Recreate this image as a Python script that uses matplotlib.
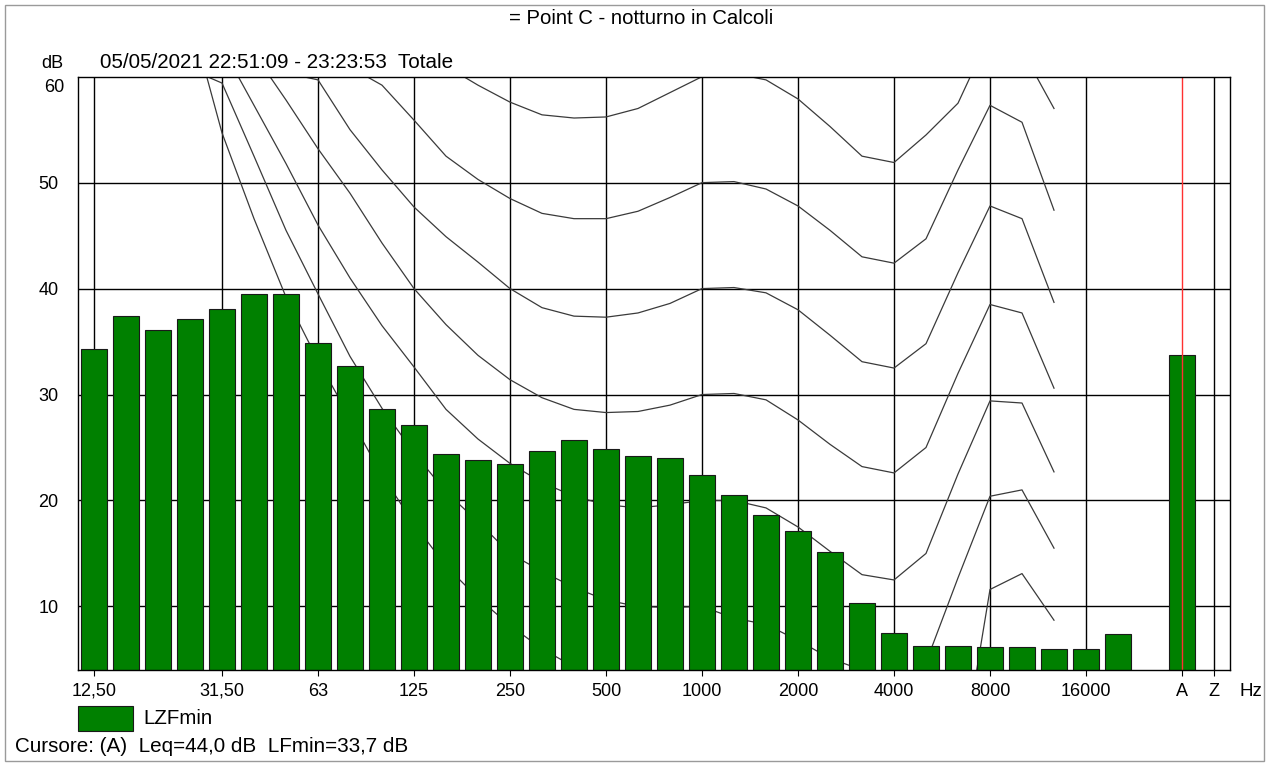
import numpy as np
import matplotlib.pyplot as plt
from matplotlib.patches import Rectangle

plt.rcParams['font.family'] = ['Liberation Sans', 'DejaVu Sans']

# third-octave bands 12.5 Hz .. 20 kHz, then the A and Z totals
bands = ['12.5', '16', '20', '25', '31.5', '40', '50', '63', '80', '100', '125',
         '160', '200', '250', '315', '400', '500', '630', '800', '1000', '1250',
         '1600', '2000', '2500', '3150', '4000', '5000', '6300', '8000', '10000',
         '12500', '16000', '20000']
lzfmin = [34.3, 37.4, 36.1, 37.1, 38.1, 39.5, 39.5, 34.9, 32.7, 28.6, 27.1,
          24.4, 23.8, 23.4, 24.7, 25.7, 24.9, 24.2, 24.0, 22.4, 20.5,
          18.6, 17.1, 15.1, 10.3, 7.5, 6.3, 6.3, 6.2, 6.2,
          6.0, 6.0, 7.4]
lzfmin_a = 33.7

tick_labels = ['12,50', '31,50', '63', '125', '250', '500', '1000', '2000',
               '4000', '8000', '16000']
tick_bands = ['12.5', '31.5', '63', '125', '250', '500', '1000', '2000',
              '4000', '8000', '16000']

# equal loudness contours (values per band 12.5 Hz .. 12.5 kHz, nan = not drawn)
nan = np.nan
iso0 = [nan, nan, nan, 65.8, 54.7, 46.6, 39.2, 33.2, 27.8, 22.4, 17.8, 13.8, 10.8,
        8.2, 6.0, 4.3, 3.0, 2.0, 1.0, 0.0, -1.0, -2.0, -3.0, -4.0, -5.5, -6.0,
        -8.0, -6.7, 11.6, 13.1, 8.7]
iso10 = [nan, nan, nan, 60.7, 59.4, 52.5, 45.5, 39.5, 33.6, 28.7, 24.5, 20.8, 18.0,
         15.0, 13.3, 11.8, 10.6, 10.0, 9.9, 10.0, 8.9, 8.3, 6.8, 5.1, 4.0, 2.5,
         4.7, 12.7, 20.4, 21.0, 15.5]
iso20 = [nan, nan, nan, nan, 62.8, 57.3, 51.8, 46.0, 41.0, 36.5, 32.6, 28.6, 25.8,
         23.5, 21.7, 20.4, 19.6, 19.3, 19.6, 20.0, 20.0, 19.3, 17.5, 15.2, 13.0,
         12.5, 15.0, 22.5, 29.4, 29.2, 22.7]
iso30 = [nan, nan, nan, nan, nan, 62.2, 57.8, 53.2, 49.0, 44.3, 40.0, 36.6, 33.7,
         31.4, 29.7, 28.6, 28.3, 28.4, 29.0, 30.0, 30.1, 29.5, 27.6, 25.3, 23.2,
         22.6, 25.0, 32.0, 38.5, 37.7, 30.6]
iso40 = [nan, nan, nan, nan, nan, nan, 60.35, 59.7, 55.0, 51.2, 47.7, 44.9, 42.5,
         40.0, 38.2, 37.4, 37.3, 37.7, 38.6, 40.0, 40.1, 39.6, 38.0, 35.6, 33.1,
         32.5, 34.8, 41.5, 47.8, 46.6, 38.7]
iso50 = [nan, nan, nan, nan, nan, nan, nan, nan, 60.9, 59.2, 55.9, 52.5, 50.3,
         48.5, 47.1, 46.6, 46.6, 47.3, 48.6, 50.0, 50.1, 49.4, 47.8, 45.5, 43.0,
         42.4, 44.7, 51.2, 57.3, 55.7, 47.4]
iso60 = [nan, nan, nan, nan, nan, nan, nan, nan, nan, nan, nan, 61.0, 59.2,
         57.6, 56.4, 56.1, 56.2, 57.0, 58.5, 60.0, 60.3, 59.7, 57.9, 55.3, 52.5,
         51.9, 54.5, 57.5, 64.0, 62.5, 57.0]
contours = [iso0, iso10, iso20, iso30, iso40, iso50, iso60]

fig = plt.figure(figsize=(12.71, 7.64), dpi=100)
W, H = 1271, 764
ax = fig.add_axes([78 / W, 1 - 670 / H, (1230 - 78) / W, (670 - 76.7) / H])

x = np.arange(len(bands))
pos_a = len(bands) + 1
pos_z = len(bands) + 2

# grid
for yv in range(10, 60, 10):
    ax.axhline(yv, color='black', lw=1.0, zorder=1)
tick_pos = [bands.index(b) for b in tick_bands]
for xv in tick_pos + [pos_z]:
    ax.axvline(xv, color='black', lw=1.0, zorder=1)

# contours behind the bars
xc = np.arange(len(iso0))
for c in contours:
    ax.plot(xc, c, color='#3a3a3a', lw=0.9, zorder=2)

ax.bar(x, lzfmin, width=0.8, color='#008000', edgecolor='#1a1a1a', lw=0.8,
       zorder=3)
ax.bar([pos_a], [lzfmin_a], width=0.8, color='#008000', edgecolor='#1a1a1a',
       lw=0.8, zorder=3)
ax.axvline(pos_a, color='#ff3030', lw=1.0, zorder=4)

ax.set_xlim(-0.5, pos_z + 0.5)
ax.set_ylim(4, 60)
ax.set_xticks(tick_pos + [pos_a, pos_z])
ax.set_xticklabels(tick_labels + ['A', 'Z'], fontsize=13)
ax.tick_params(axis='x', length=4, width=0.8, pad=5, direction='out')
ax.set_yticks([10, 20, 30, 40, 50])
ax.set_yticklabels(['10', '20', '30', '40', '50'], fontsize=13)
ax.tick_params(axis='y', length=0, pad=14)
for s in ax.spines.values():
    s.set_linewidth(1.0)
    s.set_zorder(5)

# top-left labels
fig.text(64 / W, 1 - 87 / H, '60', ha='right', va='center', fontsize=13)
fig.text(63 / W, 1 - 64 / H, 'dB', ha='right', va='center', fontsize=13)
fig.text(100 / W, 1 - 63 / H, '05/05/2021 22:51:09 - 23:23:53  Totale',
         ha='left', va='center', fontsize=14.9)
fig.text(641 / W, 1 - 18 / H, '= Point C - notturno in Calcoli',
         ha='center', va='center', fontsize=14.6)
fig.text(1251 / W, 1 - 691 / H, 'Hz', ha='center', va='center', fontsize=13.5)

# legend and cursor line
fig.patches.append(Rectangle((78 / W, 1 - 731 / H), 55 / W, 25 / H,
                             transform=fig.transFigure, facecolor='#008000',
                             edgecolor='#1a1a1a', lw=0.8))
fig.text(143 / W, 1 - 718 / H, 'LZFmin', ha='left', va='center', fontsize=14.8)
fig.text(15 / W, 1 - 747 / H, 'Cursore: (A)  Leq=44,0 dB  LFmin=33,7 dB',
         ha='left', va='center', fontsize=14.9)

# outer frame
fig.patches.append(Rectangle((5 / W, 3 / H), 1259 / W, 756 / H,
                             transform=fig.transFigure, fill=False,
                             edgecolor='#9a9a9a', lw=1.0))

fig.savefig('out.png', dpi=100)
